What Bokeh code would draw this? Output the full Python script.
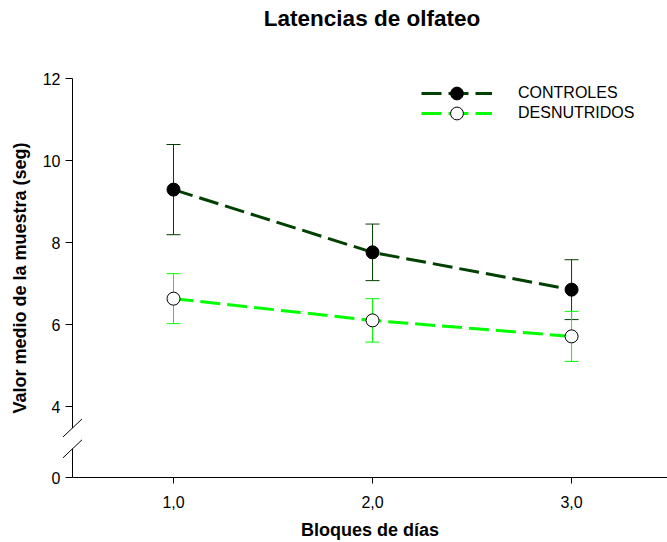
import numpy as np
from bokeh.plotting import figure
from bokeh.models import (ColumnDataSource, Whisker, TeeHead, Legend, LegendItem,
                          FixedTicker, CustomJSTickFormatter, Range1d)
from bokeh.core.properties import value
from bokeh.embed import file_html
from bokeh.resources import INLINE

# ---- data ----
bloques = [1.0, 2.0, 3.0]
x_tick_labels = ["1,0", "2,0", "3,0"]
controles_media = [9.29, 7.76, 6.85]
controles_err = [1.10, 0.69, 0.73]
desnutridos_media = [6.63, 6.10, 5.71]
desnutridos_err = [0.61, 0.53, 0.61]
y_ticks_upper = [4, 6, 8, 10, 12]
titulo = "Latencias de olfateo"

# ---- styling / layout constants ----
FONT = "Liberation Sans"
DARK = "#004000"
LIGHT = "#00ff00"
Y_ZERO_POS = 12 - 399 / 41          # where the broken axis puts its "0"
X_START, X_END = 0.4925, 3.482
BREAK_TOP, BREAK_BOTTOM = 3.476, 2.968
SL_DX, SL_DY = 0.0477, 0.2195

p = figure(width=667, height=542,
           x_range=Range1d(X_START, X_END), y_range=Range1d(Y_ZERO_POS, 12),
           output_backend="svg", toolbar_location=None,
           min_border_left=72, min_border_right=0, min_border_top=78,
           min_border_bottom=65)
p.outline_line_color = None
p.grid.visible = False
p.background_fill_color = "white"
p.border_fill_color = "white"

# title drawn as text above the frame
p.text(x=[(X_START + X_END) / 2], y=[12], text=[titulo], x_offset=2, y_offset=-60,
       text_align="center", text_baseline="middle",
       text_font=value(FONT), text_font_size="22.5px", text_font_style="bold",
       text_color="black", level="overlay")

# x axis
p.xaxis.ticker = FixedTicker(ticks=bloques)
p.xaxis.major_label_overrides = dict(zip(bloques, x_tick_labels))
p.xaxis.axis_label = "Bloques de días"
# y axis
p.yaxis.ticker = FixedTicker(ticks=[Y_ZERO_POS] + y_ticks_upper)
p.yaxis.formatter = CustomJSTickFormatter(
    args=dict(z=Y_ZERO_POS),
    code="return Math.abs(tick - z) < 1e-6 ? '0' : tick.toFixed(0);")
p.yaxis.axis_label = "Valor medio de la muestra (seg)"
p.yaxis.axis_line_color = None

for ax in (p.xaxis, p.yaxis):
    ax.major_tick_in = 0
    ax.minor_tick_in = 0
    ax.minor_tick_out = 0
    ax.major_tick_line_color = "black"
    ax.major_label_text_font = FONT
    ax.major_label_text_font_size = "16px"
    ax.major_label_text_color = "black"
    ax.axis_label_text_font = FONT
    ax.axis_label_text_font_size = "18px"
    ax.axis_label_text_font_style = "bold"
    ax.axis_label_text_color = "black"
p.xaxis.axis_line_color = "black"
p.yaxis.major_tick_out = 7
p.yaxis.major_label_standoff = 5
p.yaxis.axis_label_standoff = 10
p.xaxis.major_tick_out = 6
p.xaxis.major_label_standoff = 12
p.xaxis.axis_label_standoff = 9

# broken y axis line + break marks
p.segment(x0=[X_START, X_START], y0=[Y_ZERO_POS, BREAK_TOP],
          x1=[X_START, X_START], y1=[BREAK_BOTTOM, 12],
          line_color="black", line_width=1, level="overlay")
p.segment(x0=[X_START - SL_DX, X_START - SL_DX],
          y0=[BREAK_TOP - SL_DY, BREAK_BOTTOM - SL_DY],
          x1=[X_START + SL_DX, X_START + SL_DX],
          y1=[BREAK_TOP + SL_DY, BREAK_BOTTOM + SL_DY],
          line_color="black", line_width=1, level="overlay")

# error bars
def add_err(media, err, color):
    src = ColumnDataSource(dict(x=bloques,
                                lo=[m - e for m, e in zip(media, err)],
                                hi=[m + e for m, e in zip(media, err)]))
    w = Whisker(source=src, base="x", lower="lo", upper="hi", dimension="height",
                line_color=color, line_width=1,
                upper_head=TeeHead(size=14, line_color=color, line_width=1),
                lower_head=TeeHead(size=14, line_color=color, line_width=1))
    p.add_layout(w)

add_err(controles_media, controles_err, DARK)
add_err(desnutridos_media, desnutridos_err, LIGHT)

l1 = p.line(bloques, controles_media, line_color=DARK, line_width=3, line_dash="20 7")
s1 = p.scatter(bloques, controles_media, size=13, fill_color="black", line_color="black")
l2 = p.line(bloques, desnutridos_media, line_color=LIGHT, line_width=3, line_dash="20 7")
s2 = p.scatter(bloques, desnutridos_media, size=13, fill_color="white", line_color="black",
               line_width=1)

def make_legend(label, rends, loc):
    leg = Legend(items=[LegendItem(label=label, renderers=rends)], location=loc,
                 border_line_color=None, background_fill_alpha=0, padding=0, margin=0,
                 spacing=0, glyph_width=71, glyph_height=32, label_standoff=26,
                 label_text_font=FONT, label_text_font_size="16px",
                 label_text_color="black")
    p.add_layout(leg)

make_legend("CONTROLES", [l1, s1], (349, 368))
make_legend("DESNUTRIDOS", [l2, s2], (349, 348))

open("out.html", "w").write(file_html(p, INLINE))
